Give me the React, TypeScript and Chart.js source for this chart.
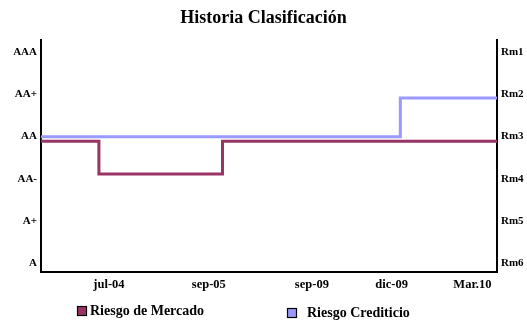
import React, { useEffect, useRef } from 'react';
import { Chart, registerables } from 'chart.js';

Chart.register(...registerables);

// ---- data ----
const chartTitle = 'Historia Clasificación';
const seriesNames = ['Riesgo de Mercado', 'Riesgo Crediticio'];
const seriesColors = ['#993366', '#9999FF'];

// Left (rating) labels, index 0 = lowest
const ratingLabels = ['A', 'A+', 'AA-', 'AA', 'AA+', 'AAA'];
// Right (Rm) labels, index 0 = lowest
const rmLabels = ['Rm6', 'Rm5', 'Rm4', 'Rm3', 'Rm2', 'Rm1'];

// Timeline (0-100 = start..end of history)
const xTickLabels = ['jul-04', 'sep-05', 'sep-09', 'dic-09', 'Mar.10'];
const xTickValues = [14.9, 36.8, 59.4, 76.9, 94.6];

// Riesgo de Mercado: Rm level at each change
const mercadoX = [0, 12.7, 39.8, 100];
const mercadoRm = [3, 4, 3, 3];

// Riesgo Crediticio: rating index (AA = 3, AA+ = 4)
const crediticioX = [0, 78.8, 100];
const crediticioRating = [3, 4, 4];

const FONT = '"Liberation Serif", "Times New Roman", serif';

const customLegend = {
  id: 'customLegend',
  afterDraw(chart: any) {
    const ctx = chart.ctx;
    const items = [
      { box: 77, text: 90, y: 311 },
      { box: 287, text: 307, y: 313 },
    ];
    ctx.save();
    ctx.font = `bold 14px ${FONT}`;
    ctx.textBaseline = 'middle';
    ctx.textAlign = 'left';
    chart.data.datasets.forEach((ds: any, i: number) => {
      const it = items[i];
      if (!it) return;
      ctx.fillStyle = ds.borderColor;
      ctx.fillRect(it.box, it.y - 5, 10, 10);
      ctx.strokeStyle = '#000';
      ctx.lineWidth = 1.2;
      ctx.strokeRect(it.box + 0.5, it.y - 4.5, 9, 9);
      ctx.fillStyle = '#000';
      ctx.fillText(ds.label, it.text, it.y);
    });
    ctx.restore();
  },
};

export default function App() {
  const ref = useRef<HTMLCanvasElement | null>(null);

  useEffect(() => {
    document.body.style.margin = '0';
    const canvas = ref.current;
    if (!canvas) return;

    const chart = new Chart(canvas, {
      type: 'line',
      data: {
        datasets: [
          {
            label: seriesNames[0],
            data: mercadoX.map((x, i) => ({ x, y: mercadoRm[i] })),
            borderColor: seriesColors[0],
            backgroundColor: seriesColors[0],
            borderWidth: 3,
            pointRadius: 0,
            stepped: 'before',
            yAxisID: 'yM',
            fill: false,
          },
          {
            label: seriesNames[1],
            data: crediticioX.map((x, i) => ({ x, y: crediticioRating[i] })),
            borderColor: seriesColors[1],
            backgroundColor: seriesColors[1],
            borderWidth: 3,
            pointRadius: 0,
            stepped: 'before',
            yAxisID: 'yB',
            fill: false,
          },
        ],
      },
      options: {
        animation: false,
        responsive: false,
        color: '#000',
        layout: { padding: { left: 0, right: 0, top: 0, bottom: 25 } },
        plugins: {
          legend: { display: false },
          tooltip: { enabled: false },
          title: {
            display: true,
            text: chartTitle,
            color: '#000',
            font: { family: FONT, size: 18, weight: 'bold' },
            padding: { top: 7.2, bottom: 11.2 },
          },
        },
        scales: {
          x: {
            type: 'linear',
            min: 0,
            max: 100,
            grid: { display: false, drawTicks: false },
            border: { display: true, color: '#000', width: 2 },
            afterBuildTicks: (s: any) => {
              s.ticks = xTickValues.map((v) => ({ value: v }));
            },
            afterFit: (s: any) => {
              s.height = 25;
            },
            ticks: {
              autoSkip: false,
              maxRotation: 0,
              padding: 5,
              color: '#000',
              font: { family: FONT, size: 12.5, weight: 'bold' },
              callback: (_v: any, i: number) => xTickLabels[i],
            },
          },
          y: {
            type: 'linear',
            position: 'left',
            min: -0.2,
            max: 5.28,
            grid: { display: false, drawTicks: false },
            border: { display: true, color: '#000', width: 2 },
            afterBuildTicks: (s: any) => {
              s.ticks = ratingLabels.map((_, i) => ({ value: i }));
            },
            afterFit: (s: any) => {
              s.width = 41;
            },
            ticks: {
              padding: 4,
              color: '#000',
              font: { family: FONT, size: 11, weight: 'bold' },
              callback: (v: any) => ratingLabels[v],
            },
          },
          yR: {
            type: 'linear',
            position: 'right',
            min: -0.2,
            max: 5.28,
            grid: { display: false, drawTicks: false },
            border: { display: true, color: '#000', width: 2 },
            afterBuildTicks: (s: any) => {
              s.ticks = rmLabels.map((_, i) => ({ value: i }));
            },
            afterFit: (s: any) => {
              s.width = 30;
            },
            ticks: {
              padding: 4,
              color: '#000',
              font: { family: FONT, size: 11, weight: 'bold' },
              callback: (v: any) => rmLabels[v],
            },
          },
          yB: {
            type: 'linear',
            display: false,
            min: -0.5,
            max: 5.5,
          },
          yM: {
            type: 'linear',
            display: false,
            reverse: true,
            min: -0.1,
            max: 7.0,
          },
        },
      } as any,
      plugins: [customLegend],
    });

    return () => chart.destroy();
  }, []);

  return (
    <div style={{ width: 527, height: 322 }}>
      <canvas ref={ref} width={527} height={322} style={{ display: 'block' }} />
    </div>
  );
}
